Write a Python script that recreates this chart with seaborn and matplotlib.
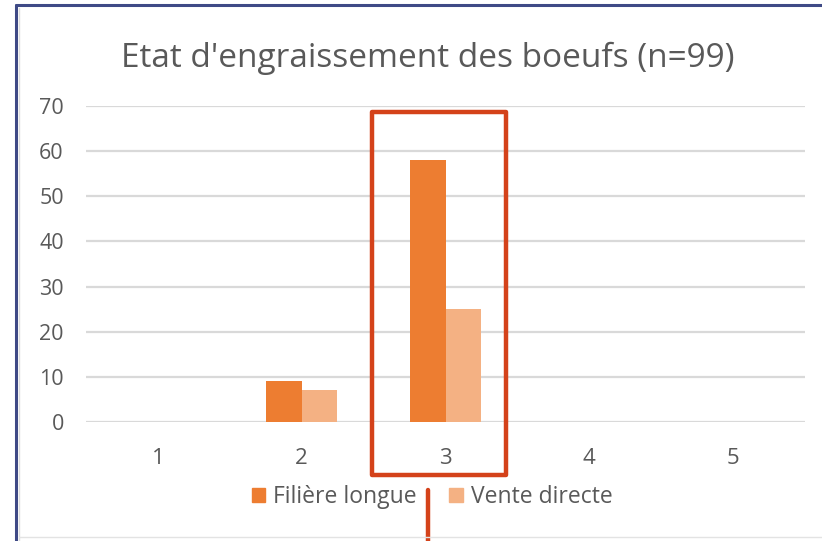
import matplotlib
matplotlib.use("Agg")
import matplotlib.pyplot as plt
import seaborn as sns
import pandas as pd
from matplotlib.patches import Rectangle
from matplotlib.lines import Line2D

categories = ["1", "2", "3", "4", "5"]
filiere_longue = [0, 9, 58, 0, 0]
vente_directe = [0, 7, 25, 0, 0]
series_names = ["Filière longue", "Vente directe"]
title = "Etat d'engraissement des boeufs (n=99)"
yticks = [0, 10, 20, 30, 40, 50, 60, 70]

df = pd.DataFrame({
    "cat": categories * 2,
    "val": filiere_longue + vente_directe,
    "serie": [series_names[0]] * 5 + [series_names[1]] * 5,
})

sns.set_style("white")
plt.rcParams["font.family"] = ["Open Sans", "DejaVu Sans"]

W, H = 822, 541
fig = plt.figure(figsize=(W / 100, H / 100), dpi=100)
ax = fig.add_axes([86 / W, (H - 422) / H, 719 / W, 316 / H])

palette = {series_names[0]: "#ED7D31", series_names[1]: "#F4B183"}
sns.barplot(data=df, x="cat", y="val", hue="serie", order=categories,
            hue_order=series_names, palette=palette, width=0.49, gap=0,
            saturation=1, ax=ax, legend=False, zorder=3, linewidth=0)

ax.set_ylim(0, 70)
ax.set_yticks(yticks)
ax.grid(axis="y", color="#D9D9D9", linewidth=1.6, zorder=0)
ax.set_axisbelow(True)
for s in ax.spines.values():
    s.set_visible(False)
ax.set_xlabel("")
ax.set_ylabel("")
ax.tick_params(axis="both", length=0, colors="#595959")
ax.tick_params(axis="y", pad=16, labelsize=15.5)
ax.tick_params(axis="x", pad=19, labelsize=16)

fig.text(428 / W, 1 - 58 / H, title, ha="center", va="center",
         fontsize=24, color="#595959")

# legend
handles = [Rectangle((0, 0), 1, 1, color=palette[n]) for n in series_names]
fig.legend(handles, series_names, loc="center", bbox_to_anchor=(432 / W, 1 - 497 / H),
           ncol=2, frameon=False, fontsize=16.5, handlelength=0.6, handleheight=0.6,
           handletextpad=0.35, columnspacing=1.4, labelcolor="#595959")

# highlight rectangle (red)
red = "#D4421A"
fig.patches.append(Rectangle((372 / W, 1 - 475 / H), (506 - 372) / W, (475 - 112) / H,
                             transform=fig.transFigure, fill=False, edgecolor=red,
                             linewidth=3.2, joinstyle="round"))
fig.lines.append(Line2D([428 / W, 428 / W], [1 - 490 / H, 0], transform=fig.transFigure,
                        color=red, linewidth=3.2))

# frame border
border = "#3F4A86"
fig.lines.append(Line2D([16 / W, 1], [1 - 5 / H, 1 - 5 / H], transform=fig.transFigure,
                        color=border, linewidth=2.2))
fig.lines.append(Line2D([16 / W, 16 / W], [1 - 5 / H, 0], transform=fig.transFigure,
                        color=border, linewidth=2.2))
fig.lines.append(Line2D([19 / W, 19 / W], [1 - 8 / H, 0], transform=fig.transFigure,
                        color="#DDDDDD", linewidth=1))
fig.lines.append(Line2D([19 / W, 1], [1 - 537 / H, 1 - 537 / H], transform=fig.transFigure,
                        color="#E3E3E3", linewidth=1))

fig.savefig("out.png", dpi=100)
